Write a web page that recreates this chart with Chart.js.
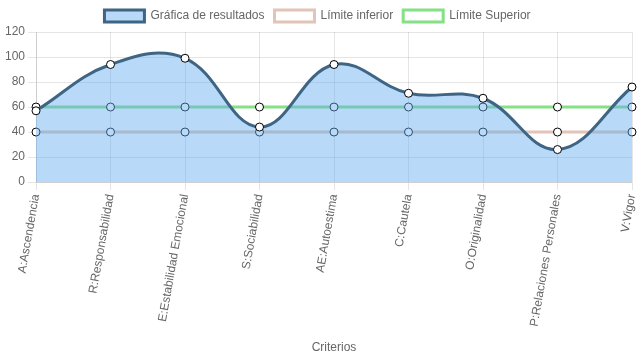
<!DOCTYPE html>
<html>
<head>
<meta charset="utf-8">
<script src="https://cdn.jsdelivr.net/npm/chart.js@4"></script>
<style>
html,body{margin:0;padding:0;background:#fff;}
#wrap{width:637px;height:359px;}
</style>
</head>
<body>
<div id="wrap"><canvas id="c" width="637" height="359"></canvas></div>
<script>
const categories = ["A:Ascendencia","R:Responsabilidad","E:Estabilidad Emocional","S:Sociabilidad","AE:Autoestima","C:Cautela","O:Originalidad","P:Relaciones Personales","V:Vigor"];
const resultados = [57, 94, 99, 44, 94, 71, 67, 26, 76];
const limiteInferior = [40, 40, 40, 40, 40, 40, 40, 40, 40];
const limiteSuperior = [60, 60, 60, 60, 60, 60, 60, 60, 60];
const yTicks = [0, 20, 40, 60, 80, 100, 120];

Chart.defaults.font.family = "'Liberation Sans', Arial, sans-serif";
Chart.defaults.font.size = 12;
Chart.defaults.color = '#666';

new Chart(document.getElementById('c'), {
  type: 'line',
  data: {
    labels: categories,
    datasets: [
      {
        label: 'Gráfica de resultados',
        data: resultados,
        borderColor: '#3f6584',
        backgroundColor: 'rgba(100,172,238,0.46)',
        borderWidth: 3,
        fill: 'origin',
        tension: 0.4,
        pointRadius: 4,
        pointBackgroundColor: '#fff',
        pointBorderColor: '#000',
        pointBorderWidth: 1
      },
      {
        label: 'Límite inferior',
        data: limiteInferior,
        borderColor: '#e3c4b8',
        backgroundColor: '#fff',
        borderWidth: 3,
        fill: false,
        tension: 0.4,
        pointRadius: 4,
        pointBackgroundColor: '#fff',
        pointBorderColor: '#000',
        pointBorderWidth: 1
      },
      {
        label: 'Límite Superior',
        data: limiteSuperior,
        borderColor: '#86e086',
        backgroundColor: '#fff',
        borderWidth: 3,
        fill: false,
        tension: 0.4,
        pointRadius: 4,
        pointBackgroundColor: '#fff',
        pointBorderColor: '#000',
        pointBorderWidth: 1
      }
    ]
  },
  options: {
    responsive: false,
    animation: false,
    layout: { padding: { left: 2, right: 4, top: 0, bottom: 4 } },
    plugins: {
      legend: {
        position: 'top',
        labels: { boxWidth: 40, boxHeight: 12, color: '#666', padding: 10 }
      },
      tooltip: { enabled: false }
    },
    scales: {
      x: {
        title: { display: true, text: 'Criterios', color: '#666', padding: { top: 10, bottom: 0 } },
        ticks: { minRotation: 80, maxRotation: 80, autoSkip: false, color: '#666' },
        grid: { color: 'rgba(0,0,0,0.1)' },
        border: { color: 'rgba(0,0,0,0.1)' },
        afterFit: (s) => { s.paddingRight = 0; }
      },
      y: {
        min: 0,
        max: 120,
        afterBuildTicks: (axis) => { axis.ticks = yTicks.map(v => ({ value: v })); },
        ticks: { color: '#666' },
        grid: { color: 'rgba(0,0,0,0.1)' },
        border: { color: 'rgba(0,0,0,0.1)' }
      }
    }
  }
});
</script>
</body>
</html>
